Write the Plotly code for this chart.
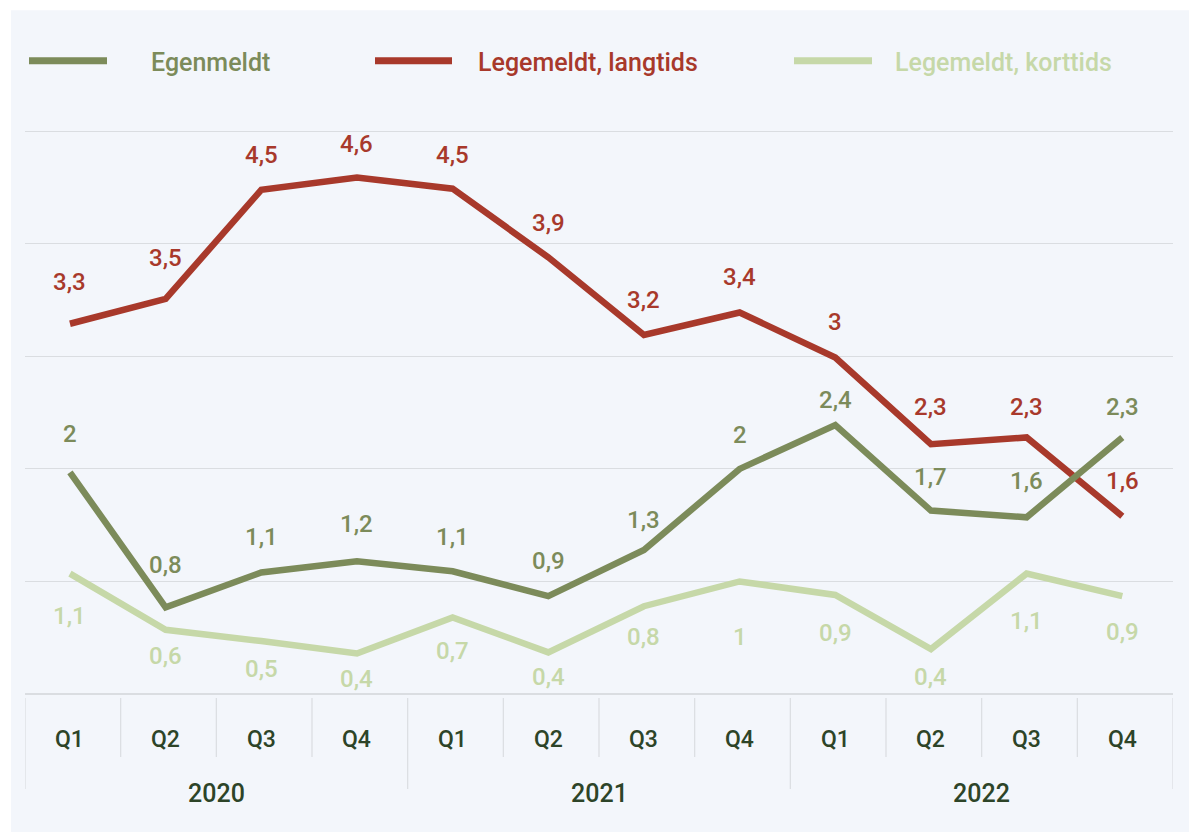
import plotly.graph_objects as go

# ---- data ----
years = ["2020", "2021", "2022"]
quarters = ["Q1", "Q2", "Q3", "Q4"]
series_names = ["Egenmeldt", "Legemeldt, langtids", "Legemeldt, korttids"]

egenmeldt = [1.97, 0.77, 1.08, 1.18, 1.09, 0.87, 1.28, 2.00, 2.39, 1.63, 1.57, 2.28]
langtids = [3.29, 3.51, 4.48, 4.59, 4.49, 3.88, 3.19, 3.39, 2.99, 2.22, 2.28, 1.58]
korttids = [1.07, 0.57, 0.47, 0.36, 0.68, 0.37, 0.78, 1.00, 0.88, 0.40, 1.07, 0.87]

egenmeldt_labels = ["2", "0,8", "1,1", "1,2", "1,1", "0,9", "1,3", "2", "2,4", "1,7", "1,6", "2,3"]
langtids_labels = ["3,3", "3,5", "4,5", "4,6", "4,5", "3,9", "3,2", "3,4", "3", "2,3", "2,3", "1,6"]
korttids_labels = ["1,1", "0,6", "0,5", "0,4", "0,7", "0,4", "0,8", "1", "0,9", "0,4", "1,1", "0,9"]

# ---- styling ----
W, H = 1189, 832
ZERO_PX = 694                # y pixel of value 0
UNIT_PX = 112.6              # pixels per unit on the value axis
YMAX = 5.5
PLOT_LEFT, PLOT_RIGHT = 25, 1173
ML, MR = PLOT_LEFT, W - PLOT_RIGHT
MB = H - ZERO_PX
PH = YMAX * UNIT_PX
MT = H - MB - PH
PW = PLOT_RIGHT - PLOT_LEFT

GREEN = "#7c8b5a"
RED = "#a8392b"
LIGHT = "#c6d8a8"
GRID = "#dadde1"
BG = "#f3f6fb"
DARK = "#2d4428"
FONT = "Roboto"

# label offsets (pixels, + is up)
egen_shift = [38, 42, 35, 37, 34, 35, 30, 34, 25, 34, 36, 30]
lang_shift = [42, 41, 35, 33, 34, 34, 35, 35, 35, 37, 30, 35]
kort_shift = [-42, -26, -28, -26, -34, -25, -31, -56, -38, -28, -47, -36]


def px_x(px):  # image pixel -> paper x
    return (px - ML) / PW


def px_y(py):  # image pixel -> paper y
    return (ZERO_PX - py) / PH


categories = [(y, q) for y in years for q in quarters]
xs = list(range(len(categories)))
XMIN = -0.47
XMAX = XMIN + len(categories)

fig = go.Figure()
for name, vals, col in [
    (series_names[2], korttids, LIGHT),
    (series_names[1], langtids, RED),
    (series_names[0], egenmeldt, GREEN),
]:
    fig.add_trace(go.Scatter(
        x=xs, y=vals, mode="lines", name=name,
        line=dict(color=col, width=6.5), showlegend=False, hoverinfo="skip",
    ))

annotations = []
for vals, labels, shifts, col in [
    (langtids, langtids_labels, lang_shift, RED),
    (egenmeldt, egenmeldt_labels, egen_shift, GREEN),
    (korttids, korttids_labels, kort_shift, LIGHT),
]:
    for i, (v, t, s) in enumerate(zip(vals, labels, shifts)):
        annotations.append(dict(
            x=xs[i], y=v, xref="x", yref="y", text=t, showarrow=False,
            yshift=s, xanchor="center", yanchor="middle",
            font=dict(family=FONT, size=24, color=col, weight=500),
        ))

shapes = []
# white frame strips (top and left) around the light panel
shapes.append(dict(
    type="rect", xref="paper", yref="paper", layer="below",
    x0=px_x(-10), x1=px_x(W + 10), y0=px_y(10), y1=px_y(-10),
    fillcolor="white", line=dict(width=0),
))
shapes.append(dict(
    type="rect", xref="paper", yref="paper", layer="below",
    x0=px_x(-10), x1=px_x(11), y0=px_y(H + 10), y1=px_y(-10),
    fillcolor="white", line=dict(width=0),
))

# quarter / year dividers and labels
q_y0, q_y1, yr_y1 = px_y(698), px_y(757), px_y(789)
for k in range(len(categories) + 1):
    xb = XMIN + k
    is_year = (k % len(quarters) == 0)
    shapes.append(dict(
        type="line", xref="x", yref="paper", x0=xb, x1=xb,
        y0=q_y0, y1=yr_y1 if is_year else q_y1,
        line=dict(color=GRID, width=1.2),
    ))
for i, (yr, q) in enumerate(categories):
    annotations.append(dict(
        x=xs[i], y=px_y(740), xref="x", yref="paper", text=q, showarrow=False,
        xanchor="center", yanchor="middle",
        font=dict(family=FONT, size=23, color=DARK, weight=500),
    ))
for j, yr in enumerate(years):
    center = XMIN + j * len(quarters) + len(quarters) / 2
    annotations.append(dict(
        x=center, y=px_y(794), xref="x", yref="paper", text=yr, showarrow=False,
        xanchor="center", yanchor="middle",
        font=dict(family=FONT, size=25, color=DARK, weight=500),
    ))

# legend (drawn manually to get long line keys)
legend_items = [
    (series_names[0], GREEN, 29, 107, 149),
    (series_names[1], RED, 375, 452, 476),
    (series_names[2], LIGHT, 794, 872, 893),
]
for name, col, lx0, lx1, tx in legend_items:
    shapes.append(dict(
        type="line", xref="paper", yref="paper",
        x0=px_x(lx0), x1=px_x(lx1), y0=px_y(60.5), y1=px_y(60.5),
        line=dict(color=col, width=7),
    ))
    annotations.append(dict(
        x=px_x(tx), y=px_y(62), xref="paper", yref="paper", text=name,
        showarrow=False, xanchor="left", yanchor="middle",
        font=dict(family=FONT, size=25, color=col, weight=500),
    ))

fig.update_layout(
    width=W, height=H,
    margin=dict(l=ML, r=MR, t=MT, b=MB, pad=0),
    paper_bgcolor=BG, plot_bgcolor="rgba(0,0,0,0)",
    xaxis=dict(range=[XMIN, XMAX], showgrid=False, zeroline=False,
               showticklabels=False, ticks="", showline=False, fixedrange=True),
    yaxis=dict(range=[0, YMAX], tickvals=[0, 1, 2, 3, 4, 5], showticklabels=False,
               showgrid=True, gridcolor=GRID, gridwidth=1.3, zeroline=True,
               zerolinecolor=GRID, zerolinewidth=2, ticks="", showline=False,
               fixedrange=True),
    shapes=shapes, annotations=annotations, showlegend=False,
)

fig.write_html(
    "out.html",
    config={"displayModeBar": False},
    post_script=("document.body.style.margin='0';"
                 "document.body.style.overflow='hidden';"
                 "document.body.style.background='" + BG + "';"),
)
